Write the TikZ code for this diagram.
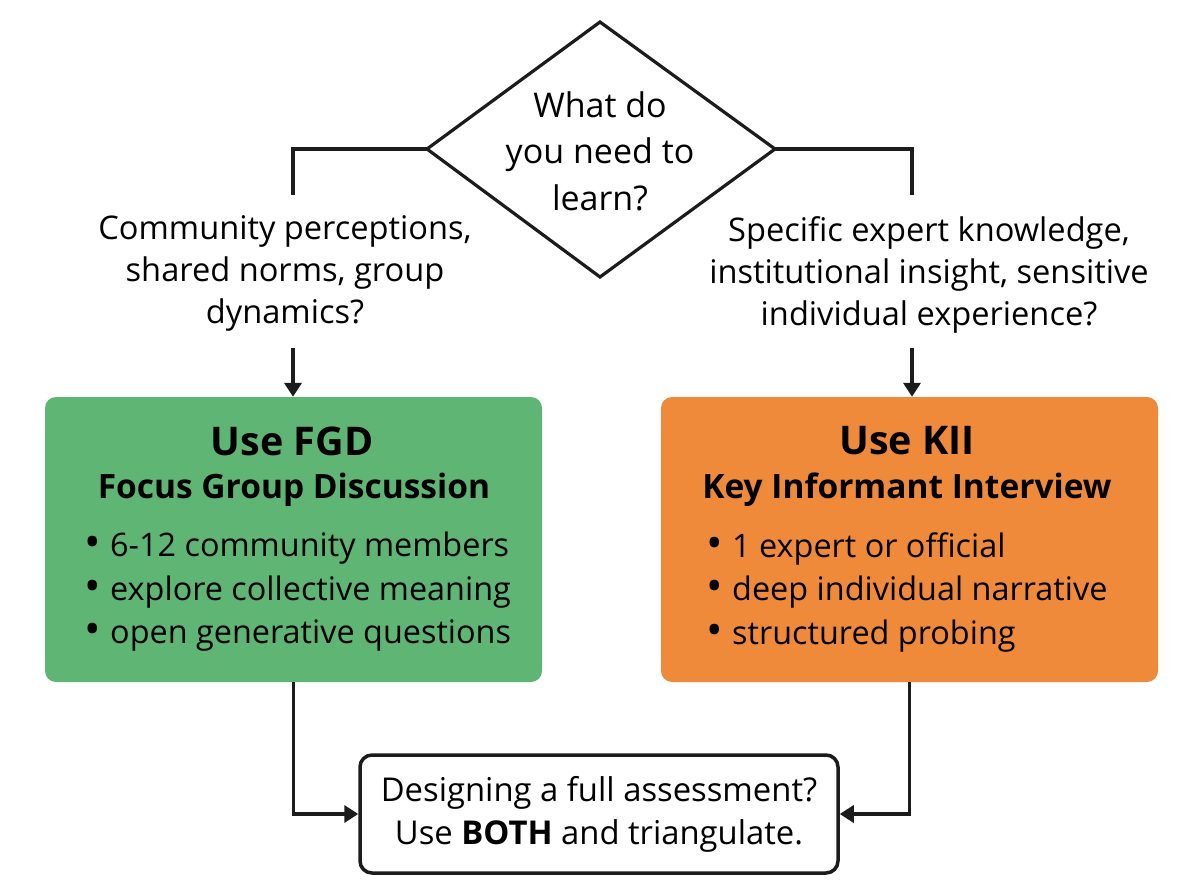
\documentclass[tikz,border=0pt]{standalone}
\usepackage{fontspec}
\setmainfont{Open Sans}
\usetikzlibrary{arrows.meta}
\definecolor{fgdgreen}{HTML}{5FB574}
\definecolor{kiiorange}{HTML}{EF8A3B}
\definecolor{ink}{HTML}{1C1C1C}
\tikzset{
  conn/.style={draw=ink, line width=3.5pt},
  arr/.style={conn, -{Triangle[length=14pt,width=17pt]}},
  qtext/.style={align=center, inner sep=0pt, font=\fontsize{34}{46.5}\selectfont},
  lbl/.style={align=center, inner sep=0pt, font=\fontsize{32.6}{42}\selectfont},
  panel/.style={rounded corners=11pt, minimum width=497pt, minimum height=285pt, inner sep=0pt},
  ptitle/.style={inner sep=0pt, font=\fontsize{39.5}{44}\selectfont\bfseries},
  psub/.style={inner sep=0pt, font=\fontsize{33.5}{38}\selectfont\bfseries},
  plist/.style={anchor=west, align=left, inner sep=0pt, font=\fontsize{32.4}{43.5}\selectfont},
  endbox/.style={draw=ink, line width=3.5pt, fill=white, rounded corners=12pt, minimum width=478pt, minimum height=118pt, align=center, inner sep=0pt, font=\fontsize{32.8}{43}\selectfont}
}
\newcommand{\bl}{\makebox[26pt][l]{\raisebox{-1pt}{\scalebox{1.35}{\textbullet}}}}
\begin{document}
\begin{tikzpicture}[x=1pt,y=-1pt]
\useasboundingbox (0,0) rectangle (1200,896);
\fill[white] (0,0) rectangle (1200,896);
% decision diamond
\coordinate (dt) at (600,22);
\coordinate (dl) at (427,149);
\coordinate (dr) at (775,149);
\coordinate (db) at (600,277);
\draw[conn, line width=3.2pt, line join=miter] (dt) -- (dr) -- (db) -- (dl) -- cycle;
\node[qtext] (q) at (600,151) {What do\\you need to\\learn?};
% branch labels
\coordinate (lend) at (293,195);
\coordinate (rend) at (912,195);
\draw[conn] (dl) -| (lend);
\draw[conn] (dr) -| (rend);
\node[lbl] (lq) at (285,273) {Community perceptions,\\shared norms, group\\dynamics?};
\node[lbl] (rq) at (929,275) {Specific expert knowledge,\\institutional insight, sensitive\\individual experience?};
% panels
\node[panel, fill=fgdgreen] (fgd) at (293.5,539.5) {};
\node[panel, fill=kiiorange] (kii) at (909.5,539.5) {};
\coordinate (la) at (293,348);
\coordinate (ra) at (912,348);
\draw[arr] (la) -- (la |- fgd.north);
\draw[arr] (ra) -- (ra |- kii.north);
\node[ptitle] (fgdt) at (292,441) {Use FGD};
\node[psub] (fgds) at (294,490) {Focus Group Discussion};
\node[plist] (fgdl) at (84,592) {\bl 6-12 community members\\\bl explore collective meaning\\\bl open generative questions};
\node[ptitle] (kiit) at (907,441) {Use KII};
\node[psub] (kiis) at (907,490) {Key Informant Interview};
\node[plist] (kiil) at (706,592) {\bl 1 expert or official\\\bl deep individual narrative\\\bl structured probing};
% final box
\node[endbox] (both) at (599,814) {Designing a full assessment?\\Use \textbf{BOTH} and triangulate.};
\draw[arr] (fgd.south) |- (both.west);
\draw[arr] (kii.south) |- (both.east);
\end{tikzpicture}
\end{document}
